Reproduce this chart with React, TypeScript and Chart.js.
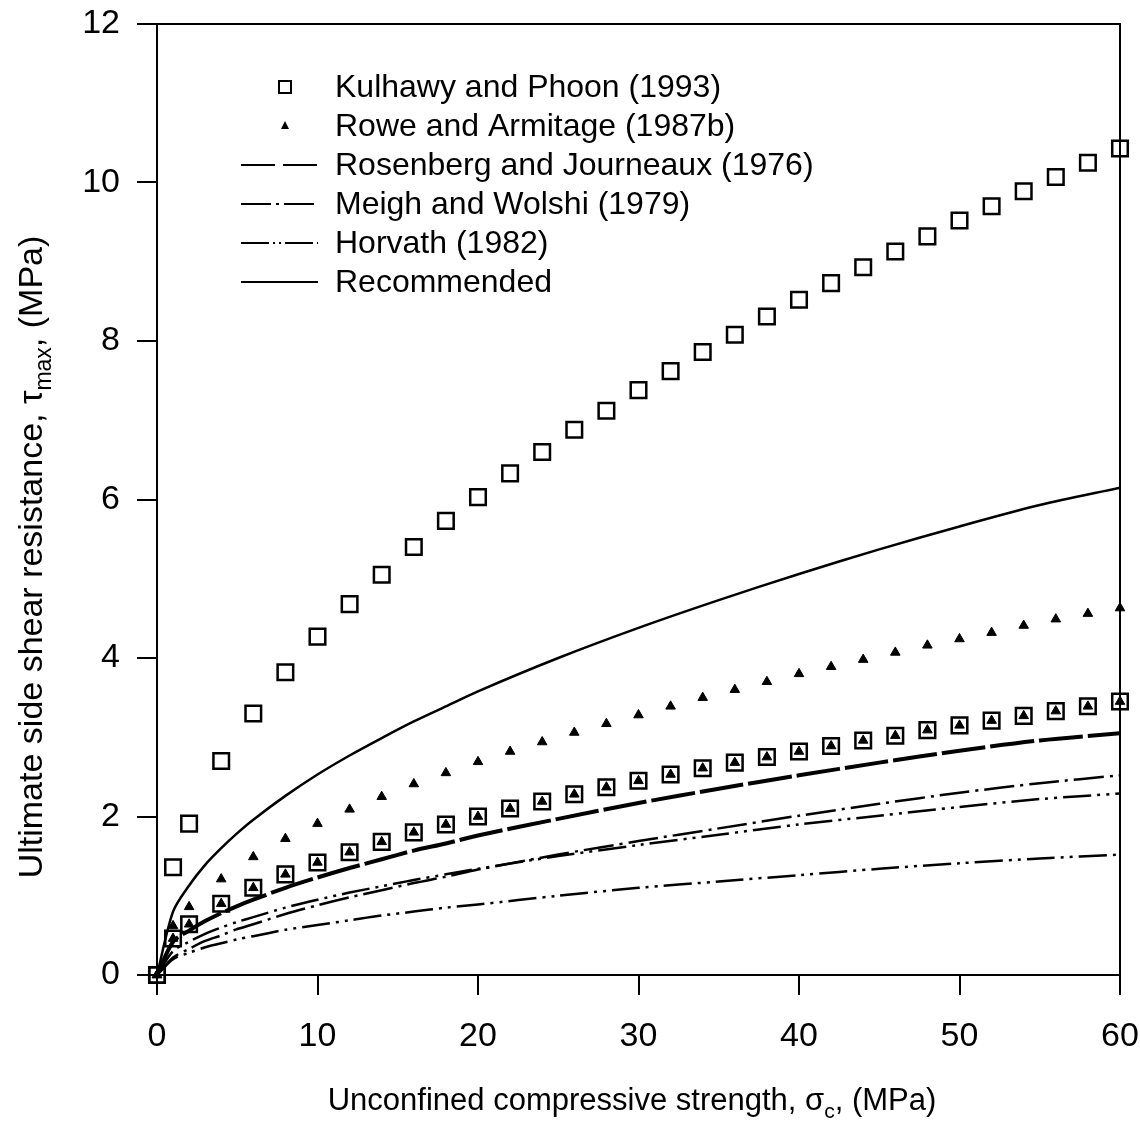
import React, { useEffect, useRef } from "react";
import { Chart, registerables } from "chart.js";

Chart.register(...registerables);

const FONT = '"Liberation Sans", Arial, Helvetica, sans-serif';

const xTicks = [0, 10, 20, 30, 40, 50, 60];
const yTicks = [0, 2, 4, 6, 8, 10, 12];

// marker abscissae (MPa)
const markerX = [0, 1, 2, 4, 6, 8, 10, 12, 14, 16, 18, 20, 22, 24, 26, 28, 30, 32, 34, 36, 38, 40, 42, 44, 46, 48, 50, 52, 54, 56, 58, 60];

// Kulhawy and Phoon (1993) – upper squares
const kulhawyUpper = [0, 1.36, 1.91, 2.7, 3.3, 3.82, 4.27, 4.68, 5.05, 5.4, 5.73, 6.03, 6.33, 6.6, 6.88, 7.12, 7.38, 7.62, 7.86, 8.08, 8.31, 8.52, 8.73, 8.93, 9.13, 9.32, 9.52, 9.7, 9.89, 10.07, 10.25, 10.43];
// Kulhawy and Phoon (1993) – lower squares
const kulhawyLower = [0, 0.46, 0.64, 0.9, 1.1, 1.27, 1.42, 1.55, 1.68, 1.8, 1.9, 2.0, 2.1, 2.19, 2.28, 2.37, 2.45, 2.53, 2.61, 2.68, 2.75, 2.82, 2.89, 2.96, 3.02, 3.09, 3.15, 3.21, 3.27, 3.33, 3.39, 3.45];
// Rowe and Armitage (1987b) – upper triangles
const roweUpper = [0, 0.62, 0.86, 1.21, 1.49, 1.72, 1.91, 2.09, 2.25, 2.41, 2.55, 2.69, 2.82, 2.94, 3.06, 3.17, 3.28, 3.39, 3.5, 3.6, 3.7, 3.8, 3.89, 3.98, 4.07, 4.16, 4.24, 4.32, 4.41, 4.49, 4.56, 4.63];
// Rowe and Armitage (1987b) – lower triangles (inside squares)
const roweLower = [0, 0.46, 0.64, 0.9, 1.1, 1.27, 1.42, 1.55, 1.68, 1.8, 1.9, 2.0, 2.1, 2.19, 2.28, 2.37, 2.45, 2.53, 2.61, 2.68, 2.75, 2.82, 2.89, 2.96, 3.02, 3.09, 3.15, 3.21, 3.27, 3.33, 3.39, 3.45];

// curve abscissae
const curveX = [0, 1, 2, 3, 4, 5, 6, 8, 10, 12, 14, 16, 18, 20, 25, 30, 35, 40, 45, 50, 55, 60];
const recommended = [0, 0.8, 1.13, 1.39, 1.6, 1.79, 1.96, 2.26, 2.53, 2.77, 2.99, 3.2, 3.39, 3.58, 4.0, 4.38, 4.73, 5.06, 5.37, 5.66, 5.93, 6.15];
const rosenberg = [0, 0.42, 0.56, 0.68, 0.78, 0.87, 0.95, 1.1, 1.23, 1.35, 1.46, 1.57, 1.66, 1.76, 1.97, 2.17, 2.35, 2.52, 2.68, 2.83, 2.96, 3.05];
const meigh = [0, 0.22, 0.33, 0.43, 0.5, 0.58, 0.64, 0.77, 0.88, 0.98, 1.07, 1.16, 1.24, 1.33, 1.52, 1.69, 1.85, 2.01, 2.16, 2.3, 2.42, 2.52];
const horvathUpper = [0, 0.3, 0.42, 0.52, 0.6, 0.67, 0.73, 0.85, 0.95, 1.04, 1.12, 1.2, 1.27, 1.34, 1.5, 1.64, 1.77, 1.9, 2.01, 2.12, 2.22, 2.29];
const horvathLower = [0, 0.2, 0.28, 0.35, 0.4, 0.45, 0.49, 0.57, 0.63, 0.69, 0.75, 0.8, 0.85, 0.89, 1.0, 1.1, 1.18, 1.26, 1.34, 1.41, 1.47, 1.52];

const legendLabels = [
  "Kulhawy and Phoon (1993)",
  "Rowe and Armitage (1987b)",
  "Rosenberg and Journeaux (1976)",
  "Meigh and Wolshi (1979)",
  "Horvath (1982)",
  "Recommended",
];

const DASH_ROS = [44, 5];
const DASH_MEIGH = [30, 6, 3, 6];
const DASH_HORV = [28, 6, 3, 6, 3, 6];

const pts = (xs: number[], ys: number[]) => xs.map((x, i) => ({ x, y: ys[i] }));

const framePlugin = {
  id: "frame",
  afterDraw(chart: any) {
    const { ctx, chartArea } = chart;
    const { left, right, top, bottom } = chartArea;
    ctx.save();
    ctx.strokeStyle = "#000";
    ctx.lineWidth = 2;
    ctx.beginPath();
    ctx.moveTo(left, top);
    ctx.lineTo(right, top);
    ctx.lineTo(right, bottom);
    ctx.stroke();

    // legend
    ctx.font = `32px ${FONT}`;
    ctx.textBaseline = "middle";
    ctx.textAlign = "left";
    ctx.fillStyle = "#000";
    const y0 = 87;
    const dy = 39;
    const symX = 285;
    const l0 = 241;
    const l1 = 318;
    legendLabels.forEach((lab, i) => {
      const y = y0 + i * dy;
      ctx.fillText(lab, 335, y + 1);
      ctx.setLineDash([]);
      if (i === 0) {
        ctx.lineWidth = 2;
        ctx.strokeRect(symX - 6, y - 6, 12, 12);
      } else if (i === 1) {
        ctx.beginPath();
        ctx.moveTo(symX, y - 5);
        ctx.lineTo(symX + 4, y + 3);
        ctx.lineTo(symX - 4, y + 3);
        ctx.closePath();
        ctx.fill();
      } else {
        const dash = i === 2 ? [34, 8] : i === 3 ? [30, 5, 3, 5] : i === 4 ? [28, 4, 2, 4, 2, 4] : [];
        ctx.lineWidth = 2;
        ctx.setLineDash(dash);
        ctx.beginPath();
        ctx.moveTo(l0, y);
        ctx.lineTo(l1, y);
        ctx.stroke();
        ctx.setLineDash([]);
      }
    });

    const measure = (parts: [string, string, number][]) =>
      parts.reduce((w, p) => {
        ctx.font = p[1];
        return w + ctx.measureText(p[0]).width;
      }, 0);

    // x title
    ctx.textBaseline = "alphabetic";
    const xParts: [string, string, number][] = [
      ["Unconfined compressive strength, σ", `31px ${FONT}`, 0],
      ["c", `21px ${FONT}`, 8],
      [", (MPa)", `31px ${FONT}`, 0],
    ];
    const wx = measure(xParts);
    let cx = 632 - wx / 2;
    xParts.forEach((p) => {
      ctx.font = p[1];
      ctx.fillText(p[0], cx, 1110 + p[2]);
      cx += ctx.measureText(p[0]).width;
    });

    // y title
    const yParts: [string, string, number][] = [
      ["Ultimate side shear resistance, τ", `34px ${FONT}`, 0],
      ["max", `23px ${FONT}`, 9],
      [", (MPa)", `34px ${FONT}`, 0],
    ];
    const wy = measure(yParts);
    ctx.translate(42, 557);
    ctx.rotate(-Math.PI / 2);
    let cy = -wy / 2;
    yParts.forEach((p) => {
      ctx.font = p[1];
      ctx.fillText(p[0], cy, p[2]);
      cy += ctx.measureText(p[0]).width;
    });
    ctx.restore();
  },
};

export default function App() {
  const ref = useRef<HTMLCanvasElement | null>(null);

  useEffect(() => {
    if (!ref.current) return;
    const lineDs = (data: number[], dash: number[], width: number) => ({
      type: "line" as const,
      data: pts(curveX, data),
      showLine: true,
      borderColor: "#000",
      borderWidth: width,
      borderDash: dash,
      pointRadius: 0,
      tension: 0.3,
      fill: false,
      order: 5,
    });
    const markerDs = (label: string, data: number[], style: string, r: number, bw: number, bg: string, order: number) => ({
      label,
      data: pts(markerX, data),
      pointStyle: style,
      pointRadius: r,
      pointBorderWidth: bw,
      borderColor: "#000",
      backgroundColor: bg,
      clip: false,
      order,
    });
    const chart = new Chart(ref.current, {
      type: "scatter",
      data: {
        datasets: [
          markerDs(legendLabels[0], kulhawyUpper, "rect", 11, 2.5, "rgba(255,255,255,0)", 2),
          markerDs(legendLabels[0] + " lower", kulhawyLower, "rect", 11, 2.5, "rgba(255,255,255,0)", 2),
          markerDs(legendLabels[1], roweUpper, "triangle", 5.5, 1, "#000", 1),
          markerDs(legendLabels[1] + " lower", roweLower, "triangle", 5.5, 1, "#000", 1),
          { label: legendLabels[2], ...lineDs(rosenberg, DASH_ROS, 4) },
          { label: legendLabels[3], ...lineDs(meigh, DASH_MEIGH, 2.5) },
          { label: legendLabels[4], ...lineDs(horvathUpper, DASH_HORV, 2.5) },
          { label: legendLabels[4] + " lower", ...lineDs(horvathLower, DASH_HORV, 2.5) },
          { label: legendLabels[5], ...lineDs(recommended, [], 2.5) },
        ] as any,
      },
      options: {
        animation: false,
        responsive: true,
        maintainAspectRatio: false,
        layout: { padding: { left: 0, top: 24, right: 20, bottom: 0 } },
        plugins: { legend: { display: false }, tooltip: { enabled: false } },
        scales: {
          x: {
            type: "linear",
            min: 0,
            max: 60,
            afterBuildTicks: (s: any) => {
              s.ticks = xTicks.map((v) => ({ value: v }));
            },
            afterFit: (s: any) => {
              s.height = 149;
              s.paddingLeft = 0;
              s.paddingRight = 0;
            },
            ticks: {
              color: "#000",
              font: { family: FONT, size: 34 },
              padding: 21,
              maxRotation: 0,
            },
            grid: {
              drawOnChartArea: false,
              drawTicks: true,
              tickLength: 20,
              color: "#000",
              lineWidth: 2,
            },
            border: { display: true, color: "#000", width: 2 },
          },
          y: {
            type: "linear",
            min: 0,
            max: 12,
            afterBuildTicks: (s: any) => {
              s.ticks = yTicks.map((v) => ({ value: v }));
            },
            afterFit: (s: any) => {
              s.width = 157;
              s.paddingTop = 0;
              s.paddingBottom = 0;
            },
            ticks: {
              color: "#000",
              font: { family: FONT, size: 34 },
              padding: 17,
            },
            grid: {
              drawOnChartArea: false,
              drawTicks: true,
              tickLength: 20,
              color: "#000",
              lineWidth: 2,
            },
            border: { display: true, color: "#000", width: 2 },
          },
        },
      },
      plugins: [framePlugin],
    });
    return () => chart.destroy();
  }, []);

  return (
    <div style={{ position: "fixed", left: 0, top: 0, width: 1140, height: 1124, background: "#fff" }}>
      <canvas ref={ref} />
    </div>
  );
}
